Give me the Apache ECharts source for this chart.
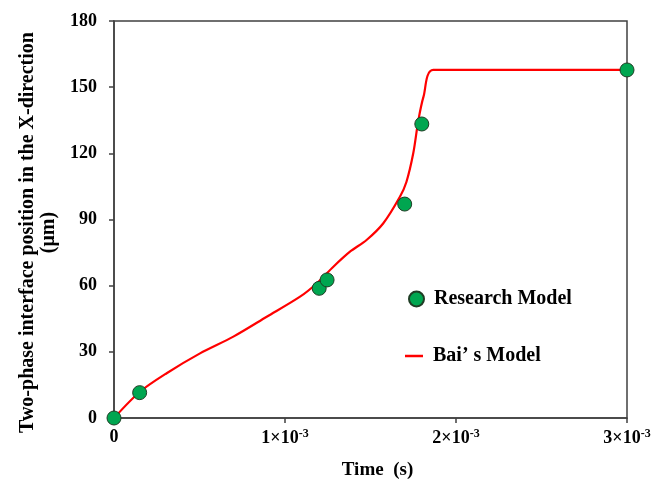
<!DOCTYPE html>
<html><head><meta charset="utf-8">
<script src="https://cdn.jsdelivr.net/npm/echarts@6/dist/echarts.min.js"></script>
<style>html,body{margin:0;padding:0;background:#fff}#c{width:654px;height:480px}</style>
</head><body><div id="c"></div>
<script>
// Research Model points (time s, position µm)
const researchX = [0, 0.00015, 0.00120, 0.001246, 0.00170, 0.00180, 0.00300];
const researchY = [0, 11.5, 58.8, 62.6, 97.0, 133.3, 157.8];
// Bai's Model curve
const baiX = [0, 0.00015, 0.000308, 0.000503, 0.000698, 0.000893, 0.001088, 0.001185, 0.001283, 0.00138, 0.001477, 0.001575, 0.001672, 0.00171, 0.00175, 0.00178, 0.00181, 0.001867, 0.00300];
const baiY = [0, 11.8, 20.3, 29.3, 36.9, 45.9, 55.0, 61.0, 68.6, 75.4, 80.7, 88.3, 100.3, 107.0, 120.0, 135.0, 145.7, 157.8, 157.8];
const xTicks = [0, 0.001, 0.002, 0.003];
const yTicks = [0, 30, 60, 90, 120, 150, 180];

const font = '"Liberation Serif", "Times New Roman", serif';
const chart = echarts.init(document.getElementById('c'), null, {renderer: 'canvas'});
const axisLine = {show: true, lineStyle: {color: '#404040', width: 1.5}};
const legendText = {fontFamily: font, fontWeight: 'bold', fontSize: 20, color: '#000', padding: [0, 0, 0, 5]};
chart.setOption({
  animation: false,
  backgroundColor: '#fff',
  grid: {left: 114, right: 27, top: 21, bottom: 62, show: true, borderColor: '#404040', borderWidth: 1.5, outerBoundsMode: 'none', containLabel: false},
  legend: [
    {
      left: 403, top: 284, itemWidth: 15, itemHeight: 15, itemGap: 0,
      data: [{name: 'Research Model', icon: 'circle'}],
      textStyle: legendText
    },
    {
      left: 400, top: 341, itemWidth: 18, itemHeight: 2.5, itemGap: 0,
      data: [{name: 'Bai\u2019 s Model', icon: 'rect'}],
      textStyle: legendText
    }
  ],
  xAxis: {
    type: 'value', min: xTicks[0], max: xTicks[xTicks.length - 1], interval: 0.001,
    name: 'Time  (s)', nameLocation: 'middle', nameGap: 43,
    nameTextStyle: {fontFamily: font, fontWeight: 'bold', fontSize: 19, color: '#000', padding: [0, 0, 0, 14]},
    axisLine: axisLine, splitLine: {show: false},
    axisTick: {show: true, length: 5, lineStyle: {color: '#404040', width: 1.5}},
    axisLabel: {
      margin: 10, color: '#000',
      formatter: v => v === 0 ? '0' : '{b|' + Math.round(v * 1000) + '\u00d710}{s|-3}',
      fontFamily: font, fontWeight: 'bold', fontSize: 18,
      rich: {
        b: {fontFamily: font, fontWeight: 'bold', fontSize: 18, color: '#000'},
        s: {fontFamily: font, fontWeight: 'bold', fontSize: 12, color: '#000', padding: [0, 0, 9, 0]}
      }
    }
  },
  yAxis: {
    type: 'value', min: yTicks[0], max: yTicks[yTicks.length - 1], interval: 30,
    name: 'Two-phase interface position in the X-direction\n(\u03bcm)', nameLocation: 'middle', nameGap: 55,
    nameTextStyle: {fontFamily: font, fontWeight: 'bold', fontSize: 20, color: '#000', lineHeight: 21, padding: [0, 26, 0, 0]},
    axisLine: axisLine, splitLine: {show: false},
    axisTick: {show: true, length: 5, lineStyle: {color: '#404040', width: 1.5}},
    axisLabel: {margin: 17, color: '#000', fontFamily: font, fontWeight: 'bold', fontSize: 18}
  },
  series: [
    {
      name: 'Bai\u2019 s Model', type: 'line', data: baiX.map((x, i) => [x, baiY[i]]),
      smooth: 0.3, symbol: 'none', z: 2,
      lineStyle: {color: '#ff0000', width: 2.2}, itemStyle: {color: '#ff0000'}
    },
    {
      name: 'Research Model', type: 'scatter', data: researchX.map((x, i) => [x, researchY[i]]),
      symbol: 'circle', symbolSize: 14, z: 3,
      itemStyle: {color: '#00a650', borderColor: '#1f3d25', borderWidth: 1, opacity: 1}
    }
  ]
});
</script></body></html>
